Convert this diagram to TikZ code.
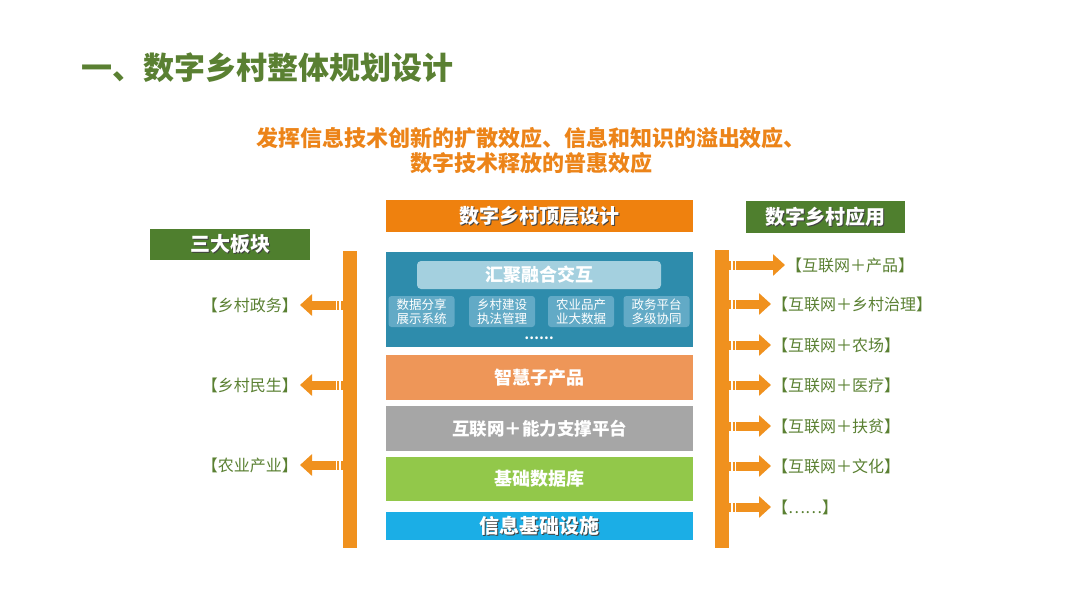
\documentclass[tikz,border=0pt]{standalone}
\usepackage{fontspec}
\setmainfont{Noto Sans CJK SC}
\usepackage{xcolor}
\usetikzlibrary{arrows.meta,positioning}

\definecolor{titlegreen}{HTML}{5A8032}
\definecolor{subor}{HTML}{EC8419}
\definecolor{topor}{HTML}{EF810E}
\definecolor{tealbox}{HTML}{2E8CAC}
\definecolor{hubbox}{HTML}{A4D0DF}
\definecolor{subbox}{HTML}{62AAC6}
\definecolor{smartor}{HTML}{EE9658}
\definecolor{platgray}{HTML}{A6A6A6}
\definecolor{dbgreen}{HTML}{92C84A}
\definecolor{infrablue}{HTML}{1BAEE6}
\definecolor{headgreen}{HTML}{4F7F2E}
\definecolor{baror}{HTML}{F0911E}

% white heading text with a dark drop shadow
\newcommand\shadowed[1]{\leavevmode\rlap{\kern1.2pt\raisebox{-1.2pt}{\color{black!75}#1}}#1}

\begin{document}
\begin{tikzpicture}[
  x=1pt,y=-1pt,
  layer/.style={minimum width=307pt,inner sep=0pt,text=white,font=\fontsize{18}{20}\selectfont\bfseries},
  head/.style={minimum width=160pt,minimum height=31pt,inner sep=0pt,fill=headgreen,text=white,font=\fontsize{20}{22}\selectfont\bfseries},
  subsys/.style={minimum width=66pt,minimum height=31pt,inner sep=0pt,rounded corners=3pt,fill=subbox,text=white,align=center,font=\fontsize{12.5}{14}\selectfont},
  bar/.style={minimum width=14pt,minimum height=297pt,inner sep=0pt,fill=baror},
  lbl/.style={text=titlegreen,inner sep=0pt,font=\fontsize{16}{18}\selectfont},
  arrow/.style={baror,line width=9pt,dash pattern=on 2pt off 1.5pt on 2pt off 1.5pt on 300pt off 0pt,-{Triangle[width=21pt,length=12pt]}}
]
\useasboundingbox (0,0) rectangle (1080,606);

% title
\node[anchor=west,text=titlegreen,font=\fontsize{31}{34}\selectfont\bfseries] (title) at (78,68) {一、数字乡村整体规划设计};
\node[align=center,text=subor,font=\fontsize{22}{25}\selectfont\bfseries] (slogan) at (531,151) {发挥信息技术创新的扩散效应、信息和知识的溢出效应、\\数字技术释放的普惠效应};

% central stack
\node[layer,fill=topor,minimum height=32pt,font=\fontsize{20}{22}\selectfont\bfseries] (top) at (539.5,216) {\shadowed{数字乡村顶层设计}};
\node[layer,fill=tealbox,minimum height=95pt] (apps) at (539.5,299.5) {};
\node[minimum width=244pt,minimum height=28pt,inner sep=0pt,rounded corners=4pt,fill=hubbox,text=white,font=\fontsize{18}{20}\selectfont\bfseries] (hub) at (539,275) {汇聚融合交互};
\node[subsys] (share) at (421.5,311.5) {数据分享\\展示系统};
\node[subsys] (build) at (502,311.5) {乡村建设\\执法管理};
\node[subsys] (agri) at (581,311.5) {农业品产\\业大数据};
\node[subsys] (gov) at (656.5,311.5) {政务平台\\多级协同};
\node[text=white,inner sep=0pt,font=\fontsize{13}{14}\selectfont\bfseries] (more) at (539,338) {……};
\node[layer,fill=smartor,minimum height=45pt] (smart) at (539.5,377.5) {智慧子产品};
\node[layer,fill=platgray,minimum height=45pt,font=\fontsize{17.5}{20}\selectfont\bfseries] (plat) at (539.5,428.5) {互联网＋能力支撑平台};
\node[layer,fill=dbgreen,minimum height=44pt] (db) at (539.5,479) {基础数据库};
\node[layer,fill=infrablue,minimum height=28pt,font=\fontsize{20}{22}\selectfont\bfseries] (infra) at (539.5,526) {\shadowed{信息基础设施}};

% left side
\node[head] (blocks) at (230,244.5) {\shadowed{三大板块}};
\node[bar] (lbar) at (350,399.5) {};
\node[lbl,anchor=east] (gov2) at (298,305) {【乡村政务】};
\node[lbl,anchor=east] (live) at (298,385) {【乡村民生】};
\node[lbl,anchor=east] (ind) at (298,465) {【农业产业】};
\draw[arrow] (lbar.west |- gov2) -- ([xshift=2pt]gov2.east);
\draw[arrow] (lbar.west |- live) -- ([xshift=2pt]live.east);
\draw[arrow] (lbar.west |- ind) -- ([xshift=2pt]ind.east);

% right side
\node[head,minimum width=159pt,minimum height=32pt] (use) at (825.5,217) {\shadowed{数字乡村应用}};
\node[bar,minimum height=298pt] (rbar) at (722,399) {};
\node[lbl,anchor=west] (prod) at (786,265) {【互联网＋产品】};
\node[lbl,anchor=west] (gover) at (772,304) {【互联网＋乡村治理】};
\node[lbl,anchor=west] (farm) at (772,345) {【互联网＋农场】};
\node[lbl,anchor=west] (med) at (772,385) {【互联网＋医疗】};
\node[lbl,anchor=west] (pov) at (772,426) {【互联网＋扶贫】};
\node[lbl,anchor=west] (cult) at (772,466) {【互联网＋文化】};
\node[lbl,anchor=west] (etc) at (772,507) {【……】};
\draw[arrow] (rbar.east |- prod) -- ([xshift=-1pt]prod.west);
\draw[arrow] (rbar.east |- gover) -- ([xshift=-1pt]gover.west);
\draw[arrow] (rbar.east |- farm) -- ([xshift=-1pt]farm.west);
\draw[arrow] (rbar.east |- med) -- ([xshift=-1pt]med.west);
\draw[arrow] (rbar.east |- pov) -- ([xshift=-1pt]pov.west);
\draw[arrow] (rbar.east |- cult) -- ([xshift=-1pt]cult.west);
\draw[arrow] (rbar.east |- etc) -- ([xshift=-1pt]etc.west);
\end{tikzpicture}
\end{document}
